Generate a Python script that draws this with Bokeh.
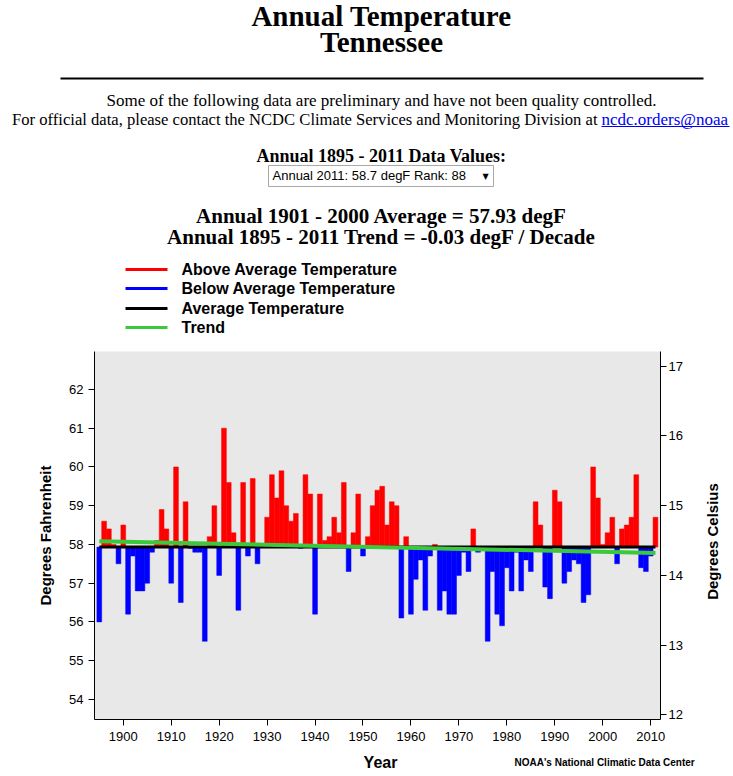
import math
from bokeh.plotting import figure
from bokeh.layouts import column, row
from bokeh.models import (Range1d, LinearAxis, FixedTicker, Label, BoxAnnotation,
                          ColumnDataSource)
from bokeh.embed import file_html
from bokeh.resources import INLINE

# ---------------- data ----------------
years = list(range(1895, 2012))
temps_f = [
    56.0, 58.6, 58.4, 58.0, 57.5, 58.5, 56.2, 57.7, 56.8, 56.8,   # 1895-1904
    57.0, 57.8, 58.1, 58.9, 58.4, 57.0, 60.0, 56.5, 59.1, 57.9,   # 1905-1914
    57.8, 57.8, 55.5, 58.2, 59.0, 57.2, 61.0, 59.6, 58.3, 56.3,   # 1915-1924
    59.6, 57.7, 59.7, 57.5, 58.0, 58.7, 59.8, 59.2, 59.9, 59.0,   # 1925-1934
    58.6, 58.8, 57.9, 59.8, 59.3, 56.2, 59.3, 58.1, 58.2, 58.7,   # 1935-1944
    58.3, 59.6, 57.3, 58.3, 59.3, 57.7, 58.2, 59.0, 59.4, 59.5,   # 1945-1954
    58.5, 59.1, 59.0, 56.1, 58.2, 56.2, 57.1, 57.6, 56.3, 57.7,   # 1955-1964
    58.0, 56.3, 56.8, 56.2, 56.2, 57.2, 57.8, 57.3, 58.4, 57.8,   # 1965-1974
    57.9, 55.5, 57.3, 56.2, 55.9, 57.4, 56.8, 57.8, 56.8, 57.6,   # 1975-1984
    57.3, 59.1, 58.5, 56.9, 56.6, 59.4, 59.1, 57.0, 57.3, 57.6,   # 1985-1994
    57.5, 56.5, 56.7, 60.0, 59.2, 58.0, 58.3, 58.7, 57.5, 58.4,   # 1995-2004
    58.5, 58.7, 59.8, 57.4, 57.3, 57.7, 58.7,                     # 2005-2011
]
average_f = 57.93
trend_years = [1895, 2011]
trend_f = [58.08, 57.78]

x_ticks = [1900, 1910, 1920, 1930, 1940, 1950, 1960, 1970, 1980, 1990, 2000, 2010]
f_ticks = [54, 55, 56, 57, 58, 59, 60, 61, 62]
c_ticks = [12, 13, 14, 15, 16, 17]

legend_labels = ["Above Average Temperature", "Below Average Temperature",
                 "Average Temperature", "Trend"]

RED = "#ff0000"
BLUE = "#0000ff"
GREEN = "#3cc83c"
legend_colors = [RED, BLUE, "black", GREEN]

W = 733
H_HEAD, H_CHART, H_FOOT = 340, 408, 28
W_CHART, W_SIDE = 695, 38


def text_fig(w, h):
    f = figure(width=w, height=h, output_backend="svg", toolbar_location=None,
               x_range=Range1d(0, w), y_range=Range1d(h, 0),
               x_axis_location=None, y_axis_location=None,
               min_border_left=0, min_border_right=0, min_border_top=0,
               min_border_bottom=0, outline_line_color=None,
               background_fill_color="white", border_fill_color="white",
               frame_align=False)
    f.xgrid.visible = False
    f.ygrid.visible = False
    return f


def lab(fig, text, x, y, size, font="Liberation Serif", style="normal",
        align="center", color="black", angle=0.0):
    fig.add_layout(Label(x=x, y=y, text=text, text_font=font, text_font_size=size,
                         text_font_style=style, text_align=align,
                         text_baseline="middle", text_color=color, angle=angle))


def box(fig, left, right, top, bottom, fill, line=None):
    fig.add_layout(BoxAnnotation(left=left, right=right, top=top, bottom=bottom,
                                 fill_color=fill, fill_alpha=1.0,
                                 line_color=line, line_alpha=1.0, line_width=1))


# ---------------- header ----------------
h = text_fig(W, H_HEAD)
lab(h, "Annual Temperature", 381, 15, "29px", style="bold")
lab(h, "Tennessee", 381, 41, "29px", style="bold")
box(h, 60, 703, 77, 79, "black")
lab(h, "Some of the following data are preliminary and have not been quality controlled.",
    381, 100, "17px")
lab(h, "For official data, please contact the NCDC Climate Services and Monitoring Division at",
    597, 119, "16.6px", align="right")
lab(h, "ncdc.orders@noaa", 601, 119, "17px", align="left", color="#0000ee")
box(h, 601, 729, 125.5, 126.5, "#0000ee")
lab(h, "Annual 1895 - 2011 Data Values:", 381, 155, "18px", style="bold")
box(h, 268, 493, 165, 186, "white", line="#a9a9a9")
lab(h, "Annual 2011: 58.7 degF  Rank: 88", 272, 175, "13px", font="Liberation Sans",
    align="left")
lab(h, "\u25bc", 485, 176, "8px", font="DejaVu Sans")
lab(h, "Annual 1901 - 2000 Average = 57.93 degF", 381, 215, "21px", style="bold")
lab(h, "Annual 1895 - 2011 Trend = -0.03 degF / Decade", 381, 236, "21px", style="bold")

# legend: swatch lines and labels
legend_y = [269, 288, 308, 327]
for text, col, ly in zip(legend_labels, legend_colors, legend_y):
    h.line(x=[125, 167], y=[ly, ly], line_color=col, line_width=3)
    lab(h, text, 181, ly, "16px", font="Liberation Sans", style="bold", align="left")

# ---------------- chart ----------------
above = [(y, t) for y, t in zip(years, temps_f) if t >= average_f]
below = [(y, t) for y, t in zip(years, temps_f) if t < average_f]
src_above = ColumnDataSource(dict(x=[a[0] for a in above], top=[a[1] for a in above]))
src_below = ColumnDataSource(dict(x=[b[0] for b in below], top=[b[1] for b in below]))

f_lo, f_hi = 53.48, 62.98

p = figure(width=W_CHART, height=H_CHART, output_backend="svg", toolbar_location=None,
           x_range=Range1d(1894.0, 2012.05), y_range=Range1d(f_lo, f_hi),
           min_border_left=94, min_border_right=35, min_border_top=11,
           min_border_bottom=29, background_fill_color="#e8e8e8",
           border_fill_color="white", outline_line_color=None, frame_align=False)
p.extra_y_ranges = {"c": Range1d((f_lo - 32) / 1.8, (f_hi - 32) / 1.8)}
p.xgrid.visible = False
p.ygrid.visible = False

c_axis = LinearAxis(y_range_name="c")
p.add_layout(c_axis, "right")

for ax in (p.xaxis[0], p.yaxis[0], c_axis):
    ax.axis_line_color = "black"
    ax.major_tick_line_color = "black"
    ax.major_tick_out = 6
    ax.major_tick_in = 0
    ax.minor_tick_line_color = None
    ax.major_label_text_font = "Liberation Sans"
    ax.major_label_text_font_size = "13px"
    ax.major_label_text_color = "black"
    ax.axis_label_text_font = "Liberation Sans"
    ax.axis_label_text_font_style = "bold"
    ax.axis_label_text_font_size = "15px"
    ax.axis_label_text_color = "black"

p.xaxis[0].ticker = FixedTicker(ticks=x_ticks)
p.xaxis[0].major_label_standoff = 6
p.yaxis[0].ticker = FixedTicker(ticks=f_ticks)
p.yaxis[0].major_label_standoff = 5
p.yaxis[0].axis_label = "Degrees Fahrenheit"
p.yaxis[0].axis_label_standoff = 12
c_axis.ticker = FixedTicker(ticks=c_ticks)
c_axis.major_label_standoff = 2

p.vbar(x="x", top="top", bottom=average_f, width=1.0, source=src_above,
       fill_color=RED, line_color=RED, line_width=0.5)
p.vbar(x="x", top="top", bottom=average_f, width=1.0, source=src_below,
       fill_color=BLUE, line_color=BLUE, line_width=0.5)
p.line(x=[years[0], years[-1]], y=[average_f, average_f], line_color="black", line_width=3)
p.line(x=trend_years, y=trend_f, line_color=GREEN, line_width=4)

# right-hand axis title
side = text_fig(W_SIDE, H_CHART)
lab(side, "Degrees Celsius", 17, 201, "15px", font="Liberation Sans", style="bold",
    angle=math.pi / 2)

# ---------------- footer ----------------
ft = text_fig(W, H_FOOT)
lab(ft, "Year", 380, 14, "16px", font="Liberation Sans", style="bold")
lab(ft, "NOAA's National Climatic Data Center", 514, 14, "10px", font="Liberation Sans",
    style="bold", align="left")

layout = column(h, row(p, side, spacing=0), ft, spacing=0)
open("out.html", "w").write(file_html(layout, INLINE))
